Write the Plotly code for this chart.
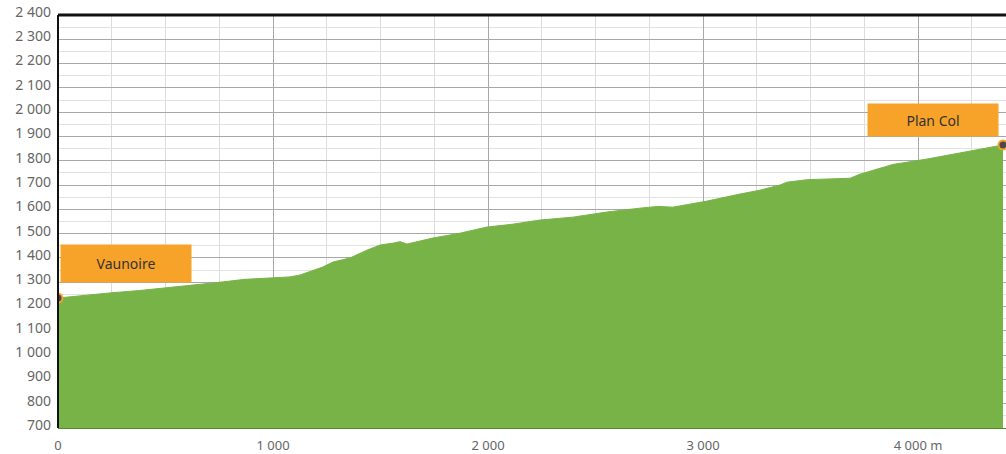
import plotly.graph_objects as go

# Elevation profile (distance in m, elevation in m)
distance = [0, 120, 242, 380, 498, 620, 744, 870, 995, 1079, 1126, 1181, 1230, 1279, 1358,
            1437, 1498, 1560, 1591, 1623, 1680, 1744, 1870, 1995, 2116, 2242, 2395, 2553,
            2707, 2790, 2860, 3019, 3172, 3265, 3358, 3391, 3484, 3577, 3684, 3730, 3884,
            4042, 4195, 4349, 4395]
elevation = [1235, 1246, 1256, 1266, 1276, 1286, 1299, 1312, 1318, 1322, 1330, 1348, 1362,
             1383, 1400, 1432, 1453, 1461, 1467, 1457, 1468, 1482, 1502, 1527, 1539, 1556,
             1568, 1589, 1605, 1612, 1609, 1634, 1663, 1679, 1700, 1712, 1722, 1726, 1728,
             1745, 1785, 1807, 1832, 1856, 1865]

y_ticks = list(range(700, 2401, 100))
x_tickvals = [0, 1000, 2000, 3000, 4000]
x_ticktext = ["0", "1 000", "2 000", "3 000", "4 000 m"]

start_label = "Vaunoire"
end_label = "Plan Col"

GREEN = "#77b347"
ORANGE = "#f7a229"
FONT = "Noto Sans, sans-serif"

fig = go.Figure()
fig.add_trace(go.Scatter(
    x=distance, y=elevation, mode="lines", fill="tozeroy",
    fillcolor=GREEN, line=dict(color=GREEN, width=1), hoverinfo="skip"))
fig.add_trace(go.Scatter(
    x=[distance[0], distance[-1]], y=[elevation[0], elevation[-1]], mode="markers",
    marker=dict(size=9, color="#4a4a4a", line=dict(color=ORANGE, width=2)),
    hoverinfo="skip"))

fig.add_annotation(x=316, y=1379, text=start_label, showarrow=False,
                   bgcolor=ORANGE, width=128, height=35,
                   font=dict(family=FONT, size=14, color="#333333"))
fig.add_annotation(x=4070, y=1967, text=end_label, showarrow=False,
                   bgcolor=ORANGE, width=128, height=30,
                   font=dict(family=FONT, size=14, color="#333333"))

# frame lines: top and left
fig.add_shape(type="line", xref="paper", yref="paper", x0=0, x1=1, y0=1, y1=1,
              line=dict(color="#111111", width=3))
fig.add_shape(type="line", xref="paper", yref="paper", x0=0, x1=0, y0=0, y1=1,
              line=dict(color="#111111", width=2))

fig.update_layout(
    width=1006, height=454,
    margin=dict(l=58, r=0, t=15, b=26, autoexpand=False),
    paper_bgcolor="white", plot_bgcolor="white",
    showlegend=False,
    separators=", ",
    font=dict(family=FONT, size=13, color="#666666"),
)
fig.update_xaxes(
    range=[0, 4409], tickvals=x_tickvals, ticktext=x_ticktext, automargin=False,
    showgrid=True, gridcolor="#a8a8a8", gridwidth=1,
    minor=dict(dtick=250, tick0=0, showgrid=True, gridcolor="#dcdcdc", gridwidth=1),
    zeroline=False, showline=True, linecolor="#4f8a2e", linewidth=1,
    ticks="", ticklen=0, ticklabelstandoff=5, tickfont=dict(size=13, color="#666666"),
)
fig.update_yaxes(
    range=[700, 2400], tickvals=y_ticks, automargin=False,
    showgrid=True, gridcolor="#a8a8a8", gridwidth=1,
    minor=dict(dtick=50, tick0=700, showgrid=True, gridcolor="#e2e2e2", gridwidth=1),
    zeroline=False, showline=False, ticks="", tickformat=",d",
    ticklabelstandoff=6, ticklabelshift=-3,
    tickfont=dict(size=14, color="#666666"),
)

fig.write_html("out.html", config={"displayModeBar": False},
               post_script="document.body.style.margin='0';document.body.style.overflow='hidden';")
